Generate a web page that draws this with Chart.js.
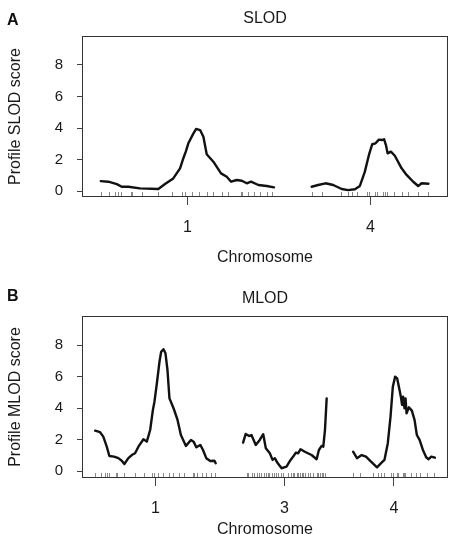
<!DOCTYPE html>
<html>
<head>
<meta charset="utf-8">
<script src="https://cdn.jsdelivr.net/npm/chart.js@4.4.1/dist/chart.umd.min.js"></script>
<style>
  html, body { margin:0; padding:0; background:#fff; }
  #wrap { position:relative; width:452px; height:534px; overflow:hidden; }
  #wrap canvas { position:absolute; left:0; }
  .tag { position:absolute; left:7px; font:bold 16px/16px 'Liberation Sans', Arial, sans-serif; color:#111; }
</style>
</head>
<body>
<div id="wrap">
  <canvas id="slodChart" width="452" height="270" style="top:0"></canvas>
  <canvas id="mlodChart" width="452" height="280" style="top:270px"></canvas>
  <div class="tag" style="top:12px">A</div>
  <div class="tag" style="top:288px">B</div>
</div>
<script>
// chromosome map (cM), gap between chromosomes is 25 cM
const chrLen = { '1':115, '3':81, '4':78 };
const chrGap = 25;
const yTicks = [0, 2, 4, 6, 8];

// marker positions (cM) for the rug
const markersChr1 = [0, 5.4, 9.4, 11.2, 13.4, 20, 20.9, 27.1, 38.2, 47, 54.1, 55.9, 60.3, 65.2, 70.3, 74.7, 80.3, 84.7, 93.1, 94, 97.5, 101.9, 105.7, 110.2, 113.9];
const markersChr3 = [5, 6.2, 10, 11.3, 14.5, 16.4, 18.6, 20.9, 22.8, 24.4, 26, 28.2, 30.4, 32.3, 34.6, 36.8, 39.4, 44.2, 46.4, 48.3, 49.5, 52.1, 53.7, 55.3, 56.9, 58.5, 60, 63.3, 64.8, 68.1, 71.2, 72.8, 74.4, 76, 77.6, 79.2];
const markersChr4 = [0.3, 7, 19.4, 24.2, 26.9, 29.8, 36.4, 38, 42, 43.1, 47.5, 48.6, 49.7, 54.8, 59.7, 64.1, 70.7, 77.4];

// SLOD profile
const slodChr1Pos = [0, 5, 10.6, 13.9, 18.3, 26, 38.2, 42.6, 48.1, 52.6, 54.8, 56.4, 58.1, 61.5, 63.3, 65.9, 68.1, 70.3, 74.7, 79.8, 83.6, 86.5, 90.2, 93.6, 96.9, 99.7, 104.6, 110.2, 115];
const slodChr1 = [0.63, 0.59, 0.44, 0.27, 0.27, 0.17, 0.13, 0.44, 0.8, 1.44, 2.08, 2.5, 3.03, 3.66, 3.94, 3.87, 3.45, 2.33, 1.86, 1.12, 0.91, 0.59, 0.7, 0.65, 0.49, 0.59, 0.38, 0.32, 0.23];
const slodChr4Pos = [0, 4.3, 9.2, 14.3, 19.9, 24.2, 28.7, 32, 35.3, 38, 40.2, 42.4, 44.6, 46.8, 48.1, 49.3, 50.4, 52.6, 55.2, 59.7, 63, 67.4, 70.7, 73, 77.5];
const slodChr4 = [0.27, 0.38, 0.49, 0.38, 0.13, 0.06, 0.11, 0.32, 1.23, 2.29, 2.97, 3.03, 3.26, 3.24, 3.28, 2.92, 2.39, 2.5, 2.24, 1.44, 1.02, 0.59, 0.32, 0.49, 0.46];

// MLOD profile
const mlodChr1Pos = [0, 4.7, 7.8, 11.1, 13.6, 18.1, 22.2, 25.4, 27.9, 31.7, 35, 38.1, 41.3, 46.1, 49.3, 52.5, 55.1, 56.6, 58.9, 61.4, 63, 65.2, 67.1, 69, 70.9, 74.8, 78.6, 81.8, 86.6, 91.4, 93.9, 96.5, 100.3, 102.9, 106, 109.8, 113.7, 115];
const mlodChr1 = [2.58, 2.48, 2.2, 1.56, 0.97, 0.93, 0.83, 0.67, 0.46, 0.83, 1.03, 1.14, 1.56, 2.03, 1.88, 2.62, 3.89, 4.42, 5.59, 6.96, 7.59, 7.75, 7.49, 6.43, 4.63, 4.0, 3.26, 2.3, 1.61, 1.99, 1.88, 1.52, 1.67, 1.35, 0.83, 0.65, 0.67, 0.51];
const mlodChr3Pos = [1.1, 3.6, 6.9, 9.1, 13.2, 17, 20.3, 22.8, 26.6, 29.2, 31.4, 33.7, 37.8, 42.5, 46.4, 48.9, 51.4, 53.7, 55.9, 60, 66.4, 71.2, 73.4, 76, 77.6, 79.2, 80.8];
const mlodChr3 = [1.82, 2.37, 2.24, 2.3, 1.67, 1.99, 2.35, 1.46, 1.14, 0.72, 0.83, 0.55, 0.19, 0.29, 0.72, 0.93, 1.18, 1.14, 1.4, 1.24, 1.03, 0.76, 1.35, 1.61, 1.56, 2.62, 4.63];
const mlodChr4Pos = [0, 3.7, 8.2, 12.3, 17.1, 22.8, 26.7, 29.9, 33.1, 35.7, 37.9, 40.1, 42, 44.3, 45.8, 46.7, 47.7, 49, 50, 51, 53.2, 56, 58.6, 60.8, 63.4, 66.8, 69.7, 72, 74.5, 78];
const mlodChr4 = [1.24, 0.83, 1.03, 0.93, 0.61, 0.25, 0.51, 0.72, 1.78, 3.47, 5.37, 6.01, 5.9, 5.16, 4.63, 4.21, 4.74, 4.0, 4.63, 3.68, 4.06, 3.85, 3.26, 2.3, 1.99, 1.31, 0.89, 0.76, 0.93, 0.86];

Chart.defaults.font.family = "'Liberation Sans', Arial, sans-serif";
Chart.defaults.color = '#1a1a1a';

// draws the plot box and the marker rug
const boxAndRug = {
  id: 'boxAndRug',
  afterDatasetsDraw(chart, args, opts) {
    const { ctx, chartArea: a, scales: { x } } = chart;
    ctx.save();
    ctx.strokeStyle = '#8a8a8a';
    ctx.lineWidth = 1;
    ctx.beginPath();
    opts.markers.forEach(m => {
      const px = Math.round(x.getPixelForValue(m)) + 0.5;
      ctx.moveTo(px, a.bottom);
      ctx.lineTo(px, a.bottom - 5);
    });
    ctx.stroke();
    ctx.strokeStyle = '#333';
    ctx.strokeRect(Math.round(a.left) + 0.5, Math.round(a.top) + 0.5, Math.round(a.width) - 1, Math.round(a.height) - 1);
    ctx.restore();
  }
};

function makePanel(id, cfg) {
  // lay chromosomes side by side
  let off = 0;
  const mids = [], names = [], markers = [], datasets = [];
  cfg.chroms.forEach(c => {
    mids.push(off + chrLen[c.name] / 2);
    names.push(c.name);
    c.markers.forEach(m => markers.push(off + m));
    datasets.push({
      data: c.pos.map((p, i) => ({ x: off + p, y: c.lod[i] })),
      borderColor: '#111', borderWidth: 2.4, borderJoinStyle: 'round', borderCapStyle: 'round',
      pointRadius: 0, tension: 0, fill: false
    });
    off += chrLen[c.name] + chrGap;
  });

  return new Chart(document.getElementById(id), {
    type: 'line',
    data: { datasets },
    plugins: [boxAndRug],
    options: {
      responsive: false,
      animation: false,
      layout: { padding: { left: 0, right: 4, top: 0, bottom: 0 } },
      plugins: {
        legend: { display: false },
        tooltip: { enabled: false },
        title: {
          display: true, text: cfg.title, fullSize: false,
          font: { size: 16, weight: 'normal' }, color: '#1a1a1a',
          padding: { top: cfg.titleTop, bottom: 7.4 }
        },
        boxAndRug: { markers }
      },
      scales: {
        x: {
          type: 'linear', min: -chrGap / 2, max: off - chrGap / 2,
          afterBuildTicks: s => { s.ticks = mids.map(v => ({ value: v })); },
          afterFit: s => { s.height = cfg.xHeight; },
          ticks: { callback: (v, i) => names[i], font: { size: 16 }, padding: 13, autoSkip: false, maxRotation: 0 },
          grid: { drawOnChartArea: false, tickLength: 8, color: '#444' },
          border: { display: false },
          title: { display: true, text: 'Chromosome', font: { size: 16 }, padding: { top: 0, bottom: cfg.xTitlePad } }
        },
        y: {
          type: 'linear', min: cfg.yMin, max: cfg.yMax,
          afterBuildTicks: s => { s.ticks = yTicks.map(v => ({ value: v })); },
          afterFit: s => { s.width = 82; },
          ticks: { font: { size: 15 }, padding: 14 },
          grid: { drawOnChartArea: false, tickLength: 5, color: '#444' },
          border: { display: false },
          title: { display: true, text: cfg.yLabel, font: { size: 16 }, padding: { top: 6.4, bottom: 0 } }
        }
      }
    }
  });
}

makePanel('slodChart', {
  title: 'SLOD', yLabel: 'Profile SLOD score', titleTop: 9.4,
  yMin: -0.38, yMax: 9.84, xHeight: 73, xTitlePad: 2.4,
  chroms: [
    { name: '1', pos: slodChr1Pos, lod: slodChr1, markers: markersChr1 },
    { name: '4', pos: slodChr4Pos, lod: slodChr4, markers: markersChr4 }
  ]
});

makePanel('mlodChart', {
  title: 'MLOD', yLabel: 'Profile MLOD score', titleTop: 19.4,
  yMin: -0.43, yMax: 9.86, xHeight: 72, xTitlePad: 11,
  chroms: [
    { name: '1', pos: mlodChr1Pos, lod: mlodChr1, markers: markersChr1 },
    { name: '3', pos: mlodChr3Pos, lod: mlodChr3, markers: markersChr3 },
    { name: '4', pos: mlodChr4Pos, lod: mlodChr4, markers: markersChr4 }
  ]
});
</script>
</body>
</html>
